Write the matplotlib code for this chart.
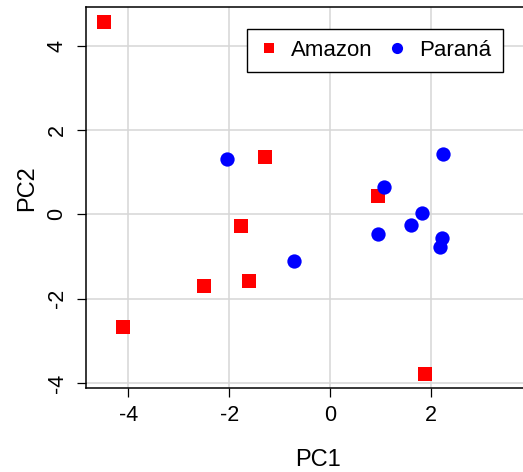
import matplotlib
matplotlib.use("Agg")
import matplotlib.pyplot as plt

plt.rcParams['font.family'] = ['Liberation Sans', 'DejaVu Sans']

# Data (PC scores)
amazon_pc1 = [-4.48, -1.29, 0.94, -1.77, -1.61, -2.50, -4.10, 1.88]
amazon_pc2 = [4.57, 1.36, 0.43, -0.28, -1.58, -1.71, -2.66, -3.78]
parana_pc1 = [-2.05, 2.23, 1.06, 1.81, 1.59, 0.94, 2.21, 2.17, -0.72]
parana_pc2 = [1.31, 1.44, 0.66, 0.04, -0.26, -0.46, -0.57, -0.77, -1.11]
group_labels = ["Amazon", "Paraná"]
x_ticks = [-4, -2, 0, 2]
y_ticks = [-4, -2, 0, 2, 4]

W, H = 523, 472
fig = plt.figure(figsize=(W / 100, H / 100), dpi=100)

# axes box in pixels (image is cropped on the right side)
left_px, right_px, top_px, bot_px = 85.9, 549.5, 7.3, 387.7
ax = fig.add_axes([left_px / W, 1 - bot_px / H, (right_px - left_px) / W, (bot_px - top_px) / H])

ax.set_xlim(-4.84, 4.34)
ax.set_ylim(-4.11, 4.91)
ax.set_xticks(x_ticks)
ax.set_yticks(y_ticks)
ax.set_xticklabels([str(v) for v in x_ticks])
ax.set_yticklabels([str(v) for v in y_ticks])

ax.grid(True, color='#d6d6d6', linewidth=1.1)
ax.set_axisbelow(True)

ax.plot(amazon_pc1, amazon_pc2, linestyle='none', marker='s', markersize=10,
        color='#ff0000', markeredgewidth=0, label=group_labels[0])
ax.plot(parana_pc1, parana_pc2, linestyle='none', marker='o', markersize=10.3,
        color='#0000ff', markeredgewidth=0, label=group_labels[1])

for s in ['left', 'bottom', 'top', 'right']:
    ax.spines[s].set_linewidth(1.1)
    ax.spines[s].set_color('black')

ax.tick_params(axis='both', direction='out', length=6.2, width=0.9, labelsize=15.5,
               colors='black')
ax.tick_params(axis='x', pad=6.5)
ax.tick_params(axis='y', pad=7.0, labelrotation=90)
for lab in ax.get_yticklabels():
    lab.set_va('center')

ax.set_xlabel('PC1', fontsize=17)
ax.set_ylabel('PC2', fontsize=17)
ax.xaxis.set_label_coords(318 / W, 1 - 466.5 / H, transform=fig.transFigure)
ax.xaxis.label.set_va('baseline')
ax.yaxis.set_label_coords(33.3 / W, 1 - 188.3 / H, transform=fig.transFigure)
ax.yaxis.label.set_va('baseline')
ax.yaxis.label.set_ha('center')

leg = ax.legend(loc='upper left', bbox_to_anchor=(246.7 / W, 1 - 29 / H),
                bbox_transform=fig.transFigure, ncol=2, fontsize=16,
                frameon=True, fancybox=False, shadow=False, framealpha=1,
                edgecolor='black', borderaxespad=0, borderpad=0.5,
                handlelength=1.0, handletextpad=0.5, columnspacing=0.6,
                markerscale=0.78)
leg.get_frame().set_linewidth(1.0)

fig.savefig('out.png', dpi=100)
